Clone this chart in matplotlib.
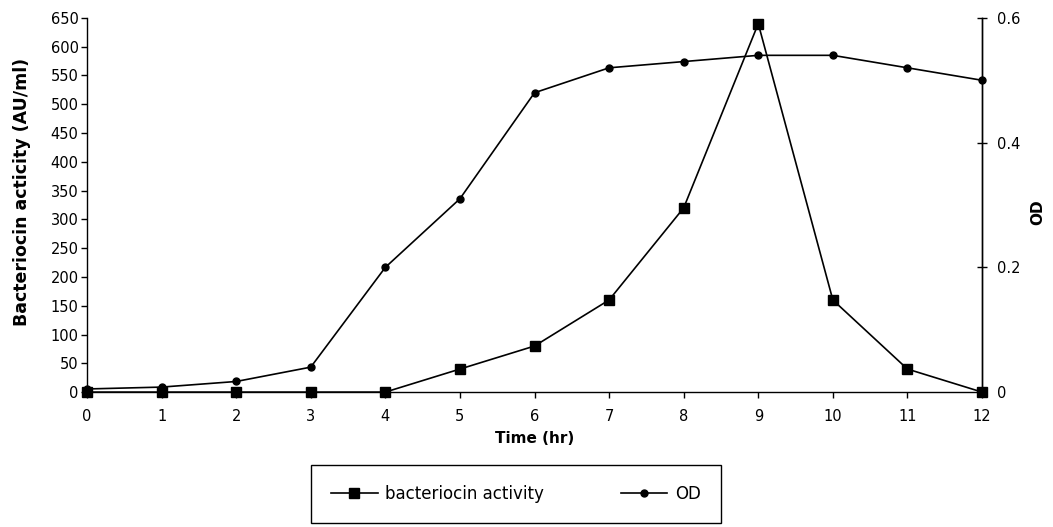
"""Bacteriocin activity and OD over time, two y axes."""

import matplotlib

matplotlib.use("Agg")
import matplotlib.pyplot as plt

hours = [0, 1, 2, 3, 4, 5, 6, 7, 8, 9, 10, 11, 12]
bacteriocin = [0, 0, 0, 0, 0, 40, 80, 160, 320, 640, 160, 40, 0]
od = [0.005, 0.008, 0.017, 0.04, 0.20, 0.31, 0.48, 0.52, 0.53, 0.54, 0.54, 0.52, 0.50]

left_ticks = list(range(0, 651, 50))
right_ticks = [0, 0.2, 0.4, 0.6]
right_labels = ["0", "0.2", "0.4", "0.6"]

plt.rcParams["font.family"] = ["DejaVu Sans"]

fig = plt.figure(figsize=(10.53, 5.27), dpi=100)
ax = fig.add_axes([0.0826, 0.256, 0.85, 0.71])
ax2 = ax.twinx()

(h1,) = ax.plot(hours, bacteriocin, color="black", lw=1.2, marker="s",
                markersize=6.5, label="bacteriocin activity", clip_on=False, zorder=3)
(h2,) = ax2.plot(hours, od, color="black", lw=1.2, marker="o",
                 markersize=5, label="OD", clip_on=False, zorder=3)

ax.set_xlim(0, 12)
ax.set_ylim(0, 650)
ax2.set_ylim(0, 0.6)
ax.set_xticks(hours)
ax.set_yticks(left_ticks)
ax2.set_yticks(right_ticks)
ax2.set_yticklabels(right_labels)

ax.spines["top"].set_visible(False)
ax2.spines["top"].set_visible(False)
ax2.spines["left"].set_visible(False)
ax2.spines["bottom"].set_visible(False)
for a in (ax, ax2):
    for s in a.spines.values():
        s.set_linewidth(1.0)

ax.tick_params(axis="both", direction="out", length=4, width=1.0, labelsize=10.5)
ax.tick_params(axis="x", pad=8)
ax.tick_params(axis="y", pad=2)
ax2.tick_params(axis="y", direction="inout", length=7, width=1.0, labelsize=10.5, pad=7)

ax.set_xlabel("Time (hr)", fontsize=11, fontweight="bold", labelpad=5)
ax.set_ylabel("Bacteriocin acticity (AU/ml)", fontsize=12.5, fontweight="bold")
ax.yaxis.set_label_coords(-0.062, 0.535)
ax2.set_ylabel("OD", fontsize=11, fontweight="bold")
ax2.yaxis.set_label_coords(1.054, 0.48)

fig.legend([h1, h2], ["bacteriocin activity", "OD"], loc="center",
           bbox_to_anchor=(0.49, 0.063), ncol=2, fontsize=12, frameon=True,
           fancybox=False, edgecolor="black", framealpha=1, handlelength=2.8,
           borderpad=1.2, columnspacing=4.6, handletextpad=0.45)

fig.savefig("out.png", dpi=100)
